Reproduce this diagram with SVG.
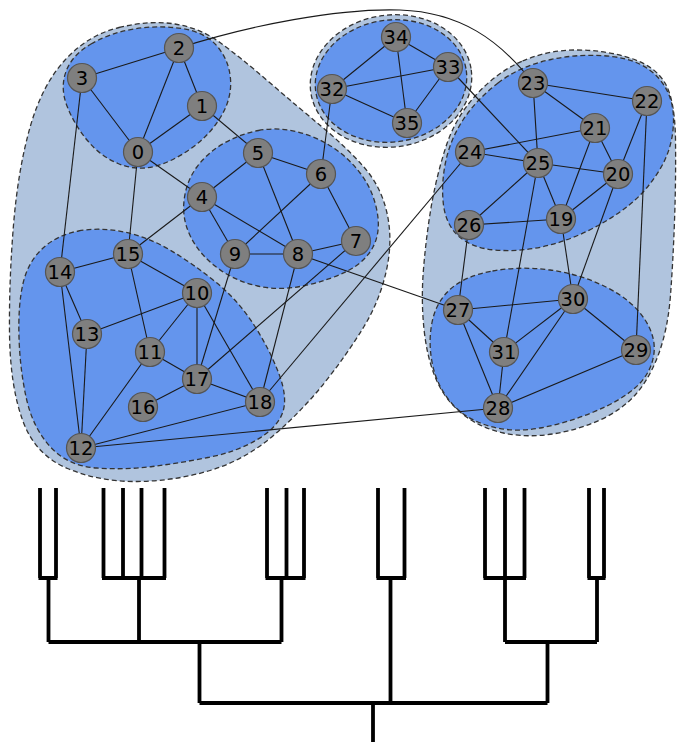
<svg xmlns="http://www.w3.org/2000/svg" width="677" height="742" viewBox="0 0 677 742">
  <style>
    .hull-outer { fill: #b0c4de; stroke: #333333; stroke-width: 1.3; stroke-dasharray: 5 3; }
    .hull-inner { fill: #6495ed; stroke: #333333; stroke-width: 1.3; stroke-dasharray: 5 3; }
    .edge { stroke: #1a1a1a; stroke-width: 1.1; fill: none; }
    .node circle { fill: #7f7f7f; stroke: #555555; stroke-width: 1.2; }
    .node text { font-family: "DejaVu Sans", sans-serif; font-size: 19.5px; text-anchor: middle; fill: #000000; }
    .dendro { stroke: #000000; stroke-width: 3.8; fill: none; stroke-linejoin: miter; }
  </style>
  <rect width="677" height="742" fill="#ffffff"/>

  <!-- community hulls -->
  <g id="hulls">
    <!-- left super-community -->
    <path class="hull-outer" d="M119,27.5 Q150,20 175,24 Q200,28 220,42.5 Q240,57 269,82 Q298,107 321.5,126.5 Q345,146 363,166 Q381,186 387,213 Q393,240 386.5,270 Q380,300 364,326.5 Q348,353 325.5,381.5 Q303,410 274,435 Q245,460 210,470.5 Q175,481 137.5,481.5 Q100,482 67.5,468.5 Q35,455 22.5,420 Q10,385 9.5,332.5 Q9,280 13.5,225 Q18,170 30,127.5 Q42,85 65,60 Q88,35 119,27.5 Z"/>
    <!-- right super-community -->
    <path class="hull-outer" d="M522.5,61 Q548,50 576.5,50 Q605,50 630,58 Q655,66 665,83 Q675,100 675.5,140 Q676,180 674.5,221 Q673,262 670.5,295 Q668,328 659,353 Q650,378 636,394 Q622,410 600,420 Q578,430 552.5,434 Q527,438 503.5,433 Q480,428 462.5,414 Q445,400 436,379 Q427,358 424,329 Q421,300 423.5,269 Q426,238 431,208 Q436,178 445.5,148 Q455,118 476,95 Q497,72 522.5,61 Z"/>
    <!-- top super-community -->
    <ellipse class="hull-outer" cx="391" cy="81" rx="81" ry="66" transform="rotate(-8 391 81)"/>

    <!-- communities -->
    <path id="c0" class="hull-inner" d="M91,44 Q110,33 134,29 Q158,25 181.5,28.5 Q205,32 217,46 Q229,60 230.5,79 Q232,98 221,116.5 Q210,135 191,148.5 Q172,162 154,166.5 Q136,171 118,163.5 Q100,156 87,140 Q74,124 67,106 Q60,88 66,71.5 Q72,55 91,44 Z"/>
    <path id="c1" class="hull-inner" d="M258.5,130.5 Q277,127 296,131.5 Q315,136 331.5,146.5 Q348,157 360.5,173.5 Q373,190 377,211 Q381,232 373,247 Q365,262 347.5,271 Q330,280 305,285.5 Q280,291 257.5,286 Q235,281 217.5,268 Q200,255 191,237.5 Q182,220 184,201 Q186,182 196.5,167.5 Q207,153 223.5,143.5 Q240,134 258.5,130.5 Z"/>
    <path id="c2" class="hull-inner" d="M78.5,231 Q100,227 124,232 Q148,237 170,250 Q192,263 215,281.5 Q238,300 254,325 Q270,350 279,374 Q288,398 282.5,413 Q277,428 256.5,440 Q236,452 208,457.5 Q180,463 152.5,466.5 Q125,470 96.5,468 Q68,466 50.5,447 Q33,428 26.5,399 Q20,370 19,337.5 Q18,305 23,283.5 Q28,262 42.5,248.5 Q57,235 78.5,231 Z"/>
    <path id="c3" class="hull-inner" d="M498,83 Q520,66 551,59.5 Q582,53 612,56.5 Q642,60 658,77.5 Q674,95 673.5,121.5 Q673,148 659.5,170 Q646,192 628,206 Q610,220 587.5,231 Q565,242 541.5,247 Q518,252 495,250 Q472,248 459,236.5 Q446,225 443.5,205 Q441,185 445.5,162.5 Q450,140 463,120 Q476,100 498,83 Z"/>
    <path id="c4" class="hull-inner" d="M492.5,271 Q520,266 550,270 Q580,274 606,287 Q632,300 644.5,319 Q657,338 653.5,356.5 Q650,375 635,388 Q620,401 593.5,412 Q567,423 540,428 Q513,433 489,426 Q465,419 451,402.5 Q437,386 432.5,364.5 Q428,343 432,322.5 Q436,302 450.5,289 Q465,276 492.5,271 Z"/>
    <ellipse id="c5" class="hull-inner" cx="391" cy="81" rx="76" ry="61" transform="rotate(-8 391 81)"/>
  </g>

  <!-- connectors -->
  <g id="edges">
    <path class="edge" d="M179,48 C250,25 340,8 400,10 C460,12 500,40 533,83"/>
    <line class="edge" x1="138" y1="152" x2="202" y2="106"/>
    <line class="edge" x1="138" y1="152" x2="179" y2="48"/>
    <line class="edge" x1="138" y1="152" x2="82" y2="78"/>
    <line class="edge" x1="202" y1="106" x2="179" y2="48"/>
    <line class="edge" x1="179" y1="48" x2="82" y2="78"/>
    <line class="edge" x1="138" y1="152" x2="202" y2="197"/>
    <line class="edge" x1="138" y1="152" x2="128" y2="254"/>
    <line class="edge" x1="202" y1="106" x2="258" y2="153"/>
    <line class="edge" x1="82" y1="78" x2="60" y2="272"/>
    <line class="edge" x1="202" y1="197" x2="258" y2="153"/>
    <line class="edge" x1="202" y1="197" x2="235" y2="254"/>
    <line class="edge" x1="202" y1="197" x2="298" y2="254"/>
    <line class="edge" x1="202" y1="197" x2="128" y2="254"/>
    <line class="edge" x1="258" y1="153" x2="321" y2="174"/>
    <line class="edge" x1="258" y1="153" x2="298" y2="254"/>
    <line class="edge" x1="321" y1="174" x2="235" y2="254"/>
    <line class="edge" x1="321" y1="174" x2="356" y2="241"/>
    <line class="edge" x1="321" y1="174" x2="332" y2="89"/>
    <line class="edge" x1="356" y1="241" x2="298" y2="254"/>
    <line class="edge" x1="298" y1="254" x2="235" y2="254"/>
    <line class="edge" x1="298" y1="254" x2="458" y2="310"/>
    <line class="edge" x1="298" y1="254" x2="260" y2="402"/>
    <line class="edge" x1="356" y1="241" x2="197" y2="379"/>
    <line class="edge" x1="235" y1="254" x2="197" y2="379"/>
    <line class="edge" x1="60" y1="272" x2="128" y2="254"/>
    <line class="edge" x1="87" y1="334" x2="60" y2="272"/>
    <line class="edge" x1="81" y1="448" x2="60" y2="272"/>
    <line class="edge" x1="81" y1="448" x2="87" y2="334"/>
    <line class="edge" x1="197" y1="293" x2="87" y2="334"/>
    <line class="edge" x1="197" y1="293" x2="128" y2="254"/>
    <line class="edge" x1="150" y1="352" x2="128" y2="254"/>
    <line class="edge" x1="197" y1="293" x2="150" y2="352"/>
    <line class="edge" x1="197" y1="293" x2="197" y2="379"/>
    <line class="edge" x1="197" y1="293" x2="260" y2="402"/>
    <line class="edge" x1="150" y1="352" x2="197" y2="379"/>
    <line class="edge" x1="150" y1="352" x2="81" y2="448"/>
    <line class="edge" x1="143" y1="407" x2="197" y2="379"/>
    <line class="edge" x1="197" y1="379" x2="260" y2="402"/>
    <line class="edge" x1="81" y1="448" x2="260" y2="402"/>
    <line class="edge" x1="81" y1="448" x2="498" y2="408"/>
    <line class="edge" x1="260" y1="402" x2="470" y2="152"/>
    <line class="edge" x1="332" y1="89" x2="396" y2="37"/>
    <line class="edge" x1="332" y1="89" x2="448" y2="67"/>
    <line class="edge" x1="332" y1="89" x2="407" y2="123"/>
    <line class="edge" x1="448" y1="67" x2="396" y2="37"/>
    <line class="edge" x1="396" y1="37" x2="407" y2="123"/>
    <line class="edge" x1="448" y1="67" x2="407" y2="123"/>
    <line class="edge" x1="538" y1="163" x2="448" y2="67"/>
    <line class="edge" x1="647" y1="101" x2="533" y2="83"/>
    <line class="edge" x1="595" y1="128" x2="533" y2="83"/>
    <line class="edge" x1="533" y1="83" x2="538" y2="163"/>
    <line class="edge" x1="595" y1="128" x2="470" y2="152"/>
    <line class="edge" x1="618" y1="174" x2="595" y2="128"/>
    <line class="edge" x1="561" y1="219" x2="595" y2="128"/>
    <line class="edge" x1="618" y1="174" x2="647" y2="101"/>
    <line class="edge" x1="647" y1="101" x2="636" y2="350"/>
    <line class="edge" x1="470" y1="152" x2="538" y2="163"/>
    <line class="edge" x1="618" y1="174" x2="538" y2="163"/>
    <line class="edge" x1="538" y1="163" x2="469" y2="225"/>
    <line class="edge" x1="561" y1="219" x2="538" y2="163"/>
    <line class="edge" x1="538" y1="163" x2="504" y2="352"/>
    <line class="edge" x1="561" y1="219" x2="469" y2="225"/>
    <line class="edge" x1="469" y1="225" x2="458" y2="310"/>
    <line class="edge" x1="561" y1="219" x2="618" y2="174"/>
    <line class="edge" x1="618" y1="174" x2="573" y2="299"/>
    <line class="edge" x1="561" y1="219" x2="573" y2="299"/>
    <line class="edge" x1="458" y1="310" x2="573" y2="299"/>
    <line class="edge" x1="458" y1="310" x2="504" y2="352"/>
    <line class="edge" x1="458" y1="310" x2="498" y2="408"/>
    <line class="edge" x1="573" y1="299" x2="504" y2="352"/>
    <line class="edge" x1="498" y1="408" x2="573" y2="299"/>
    <line class="edge" x1="636" y1="350" x2="573" y2="299"/>
    <line class="edge" x1="498" y1="408" x2="504" y2="352"/>
    <line class="edge" x1="498" y1="408" x2="636" y2="350"/>
  </g>

  <!-- vertices -->
  <g id="nodes">
    <g id="n0" class="node"><circle cx="138" cy="152" r="14.5"/><text x="138" y="159.1">0</text></g>
    <g id="n1" class="node"><circle cx="202" cy="106" r="14.5"/><text x="202" y="113.1">1</text></g>
    <g id="n2" class="node"><circle cx="179" cy="48" r="14.5"/><text x="179" y="55.1">2</text></g>
    <g id="n3" class="node"><circle cx="82" cy="78" r="14.5"/><text x="82" y="85.1">3</text></g>
    <g id="n4" class="node"><circle cx="202" cy="197" r="14.5"/><text x="202" y="204.1">4</text></g>
    <g id="n5" class="node"><circle cx="258" cy="153" r="14.5"/><text x="258" y="160.1">5</text></g>
    <g id="n6" class="node"><circle cx="321" cy="174" r="14.5"/><text x="321" y="181.1">6</text></g>
    <g id="n7" class="node"><circle cx="356" cy="241" r="14.5"/><text x="356" y="248.1">7</text></g>
    <g id="n8" class="node"><circle cx="298" cy="254" r="14.5"/><text x="298" y="261.1">8</text></g>
    <g id="n9" class="node"><circle cx="235" cy="254" r="14.5"/><text x="235" y="261.1">9</text></g>
    <g id="n10" class="node"><circle cx="197" cy="293" r="14.5"/><text x="197" y="300.1">10</text></g>
    <g id="n11" class="node"><circle cx="150" cy="352" r="14.5"/><text x="150" y="359.1">11</text></g>
    <g id="n12" class="node"><circle cx="81" cy="448" r="14.5"/><text x="81" y="455.1">12</text></g>
    <g id="n13" class="node"><circle cx="87" cy="334" r="14.5"/><text x="87" y="341.1">13</text></g>
    <g id="n14" class="node"><circle cx="60" cy="272" r="14.5"/><text x="60" y="279.1">14</text></g>
    <g id="n15" class="node"><circle cx="128" cy="254" r="14.5"/><text x="128" y="261.1">15</text></g>
    <g id="n16" class="node"><circle cx="143" cy="407" r="14.5"/><text x="143" y="414.1">16</text></g>
    <g id="n17" class="node"><circle cx="197" cy="379" r="14.5"/><text x="197" y="386.1">17</text></g>
    <g id="n18" class="node"><circle cx="260" cy="402" r="14.5"/><text x="260" y="409.1">18</text></g>
    <g id="n19" class="node"><circle cx="561" cy="219" r="14.5"/><text x="561" y="226.1">19</text></g>
    <g id="n20" class="node"><circle cx="618" cy="174" r="14.5"/><text x="618" y="181.1">20</text></g>
    <g id="n21" class="node"><circle cx="595" cy="128" r="14.5"/><text x="595" y="135.1">21</text></g>
    <g id="n22" class="node"><circle cx="647" cy="101" r="14.5"/><text x="647" y="108.1">22</text></g>
    <g id="n23" class="node"><circle cx="533" cy="83" r="14.5"/><text x="533" y="90.1">23</text></g>
    <g id="n24" class="node"><circle cx="470" cy="152" r="14.5"/><text x="470" y="159.1">24</text></g>
    <g id="n25" class="node"><circle cx="538" cy="163" r="14.5"/><text x="538" y="170.1">25</text></g>
    <g id="n26" class="node"><circle cx="469" cy="225" r="14.5"/><text x="469" y="232.1">26</text></g>
    <g id="n27" class="node"><circle cx="458" cy="310" r="14.5"/><text x="458" y="317.1">27</text></g>
    <g id="n28" class="node"><circle cx="498" cy="408" r="14.5"/><text x="498" y="415.1">28</text></g>
    <g id="n29" class="node"><circle cx="636" cy="350" r="14.5"/><text x="636" y="357.1">29</text></g>
    <g id="n30" class="node"><circle cx="573" cy="299" r="14.5"/><text x="573" y="306.1">30</text></g>
    <g id="n31" class="node"><circle cx="504" cy="352" r="14.5"/><text x="504" y="359.1">31</text></g>
    <g id="n32" class="node"><circle cx="332" cy="89" r="14.5"/><text x="332" y="96.1">32</text></g>
    <g id="n33" class="node"><circle cx="448" cy="67" r="14.5"/><text x="448" y="74.1">33</text></g>
    <g id="n34" class="node"><circle cx="396" cy="37" r="14.5"/><text x="396" y="44.1">34</text></g>
    <g id="n35" class="node"><circle cx="407" cy="123" r="14.5"/><text x="407" y="130.1">35</text></g>
  </g>

  <!-- hierarchy tree -->
  <g id="dendrogram" class="dendro">
    <path d="M40,488 V578 M56,488 V578 M38.5,578 H57.5 M48.5,578 V642"/>
    <path d="M103.5,488 V578 M123,488 V578 M141.5,488 V578 M164.5,488 V578 M102,578 H166 M139,578 V642"/>
    <path d="M267,488 V578 M286.5,488 V578 M304,488 V578 M265.5,578 H305.5 M281.5,578 V642"/>
    <path d="M48.5,642 H281.5 M199.5,642 V703"/>
    <path d="M378,488 V578 M404.5,488 V578 M376.5,578 H406 M390.5,578 V703"/>
    <path d="M485,488 V578 M505,488 V578 M524.5,488 V578 M483.5,578 H526 M505,578 V642"/>
    <path d="M589,488 V578 M604,488 V578 M587.5,578 H605.5 M597,578 V642"/>
    <path d="M505,642 H597 M547.5,642 V703"/>
    <path d="M199.5,703 H547.5 M373,703 V742"/>
  </g>
</svg>
